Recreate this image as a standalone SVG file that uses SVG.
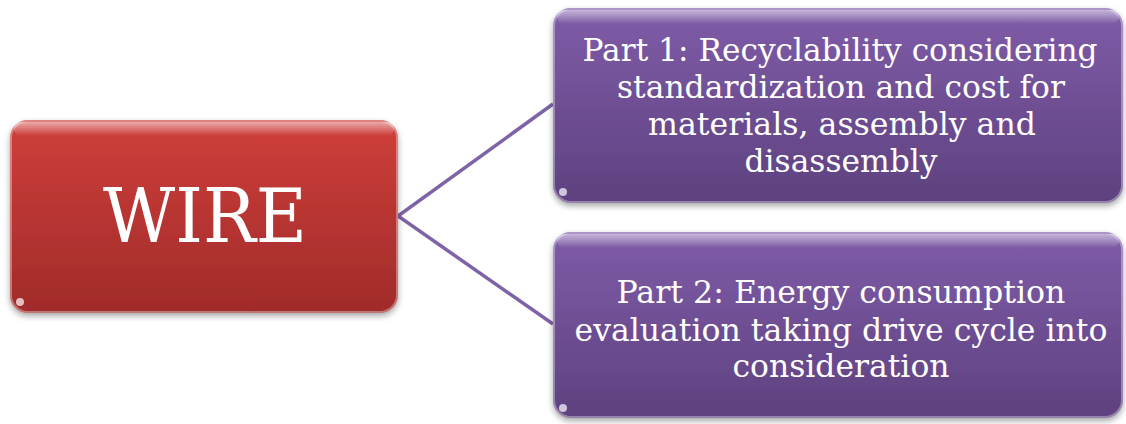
<svg xmlns="http://www.w3.org/2000/svg" width="1126" height="424" viewBox="0 0 1126 424">
<defs>
<linearGradient id="gRed" x1="0" y1="0" x2="0" y2="1">
<stop offset="0" stop-color="#cf3f3b"/>
<stop offset="1" stop-color="#a02b29"/>
</linearGradient>
<linearGradient id="gPur" x1="0" y1="0" x2="0" y2="1">
<stop offset="0" stop-color="#7f5ca8"/>
<stop offset="1" stop-color="#5e417f"/>
</linearGradient>
<linearGradient id="gloss" x1="0" y1="0" x2="0" y2="1">
<stop offset="0" stop-color="#fff" stop-opacity="0.55"/>
<stop offset="1" stop-color="#fff" stop-opacity="0"/>
</linearGradient>
<filter id="sh" x="-10%" y="-10%" width="120%" height="125%">
<feDropShadow dx="0" dy="3" stdDeviation="3" flood-color="#000" flood-opacity="0.35"/>
</filter>
<style>
.t{font-family:"DejaVu Serif","Liberation Serif",serif;fill:#fff;text-anchor:middle}
.s{font-size:31px}
.conn{stroke:#7f63a7;stroke-width:3.5;fill:none}
.edge{fill:none;stroke:#fff;stroke-opacity:0.35;stroke-width:2}
</style>
</defs>
<g id="connectors">
<polyline class="conn" points="553,104 398,216 553,324"/>
</g>
<g id="wire">
<rect x="10" y="120" width="388" height="193" rx="18" fill="url(#gRed)" filter="url(#sh)"/>
<rect x="14" y="122" width="380" height="14" rx="7" fill="url(#gloss)"/>
<rect x="11" y="121" width="386" height="191" rx="17" class="edge"/>
<circle cx="20" cy="302" r="4" fill="#fff" fill-opacity="0.7"/>
<text class="t" x="205" y="242" font-size="74" textLength="204" lengthAdjust="spacingAndGlyphs">WIRE</text>
</g>
<g id="part1">
<rect x="553" y="8" width="570" height="195" rx="18" fill="url(#gPur)" filter="url(#sh)"/>
<rect x="557" y="10" width="562" height="14" rx="7" fill="url(#gloss)"/>
<rect x="554" y="9" width="568" height="193" rx="17" class="edge"/>
<circle cx="563" cy="192" r="4" fill="#fff" fill-opacity="0.7"/>
<text class="t s" x="840" y="61" textLength="515" lengthAdjust="spacingAndGlyphs">Part 1: Recyclability considering</text>
<text class="t s" x="841" y="98" textLength="448" lengthAdjust="spacingAndGlyphs">standardization and cost for</text>
<text class="t s" x="842" y="135" textLength="388" lengthAdjust="spacingAndGlyphs">materials, assembly and</text>
<text class="t s" x="841" y="172" textLength="193" lengthAdjust="spacingAndGlyphs">disassembly</text>
</g>
<g id="part2">
<rect x="553" y="232" width="570" height="186" rx="18" fill="url(#gPur)" filter="url(#sh)"/>
<rect x="557" y="234" width="562" height="14" rx="7" fill="url(#gloss)"/>
<rect x="554" y="233" width="568" height="184" rx="17" class="edge"/>
<circle cx="563" cy="408" r="4" fill="#fff" fill-opacity="0.7"/>
<text class="t s" x="841" y="303" textLength="449" lengthAdjust="spacingAndGlyphs">Part 2: Energy consumption</text>
<text class="t s" x="841" y="341" textLength="533" lengthAdjust="spacingAndGlyphs">evaluation taking drive cycle into</text>
<text class="t s" x="841" y="377" textLength="217" lengthAdjust="spacingAndGlyphs">consideration</text>
</g>
</svg>
